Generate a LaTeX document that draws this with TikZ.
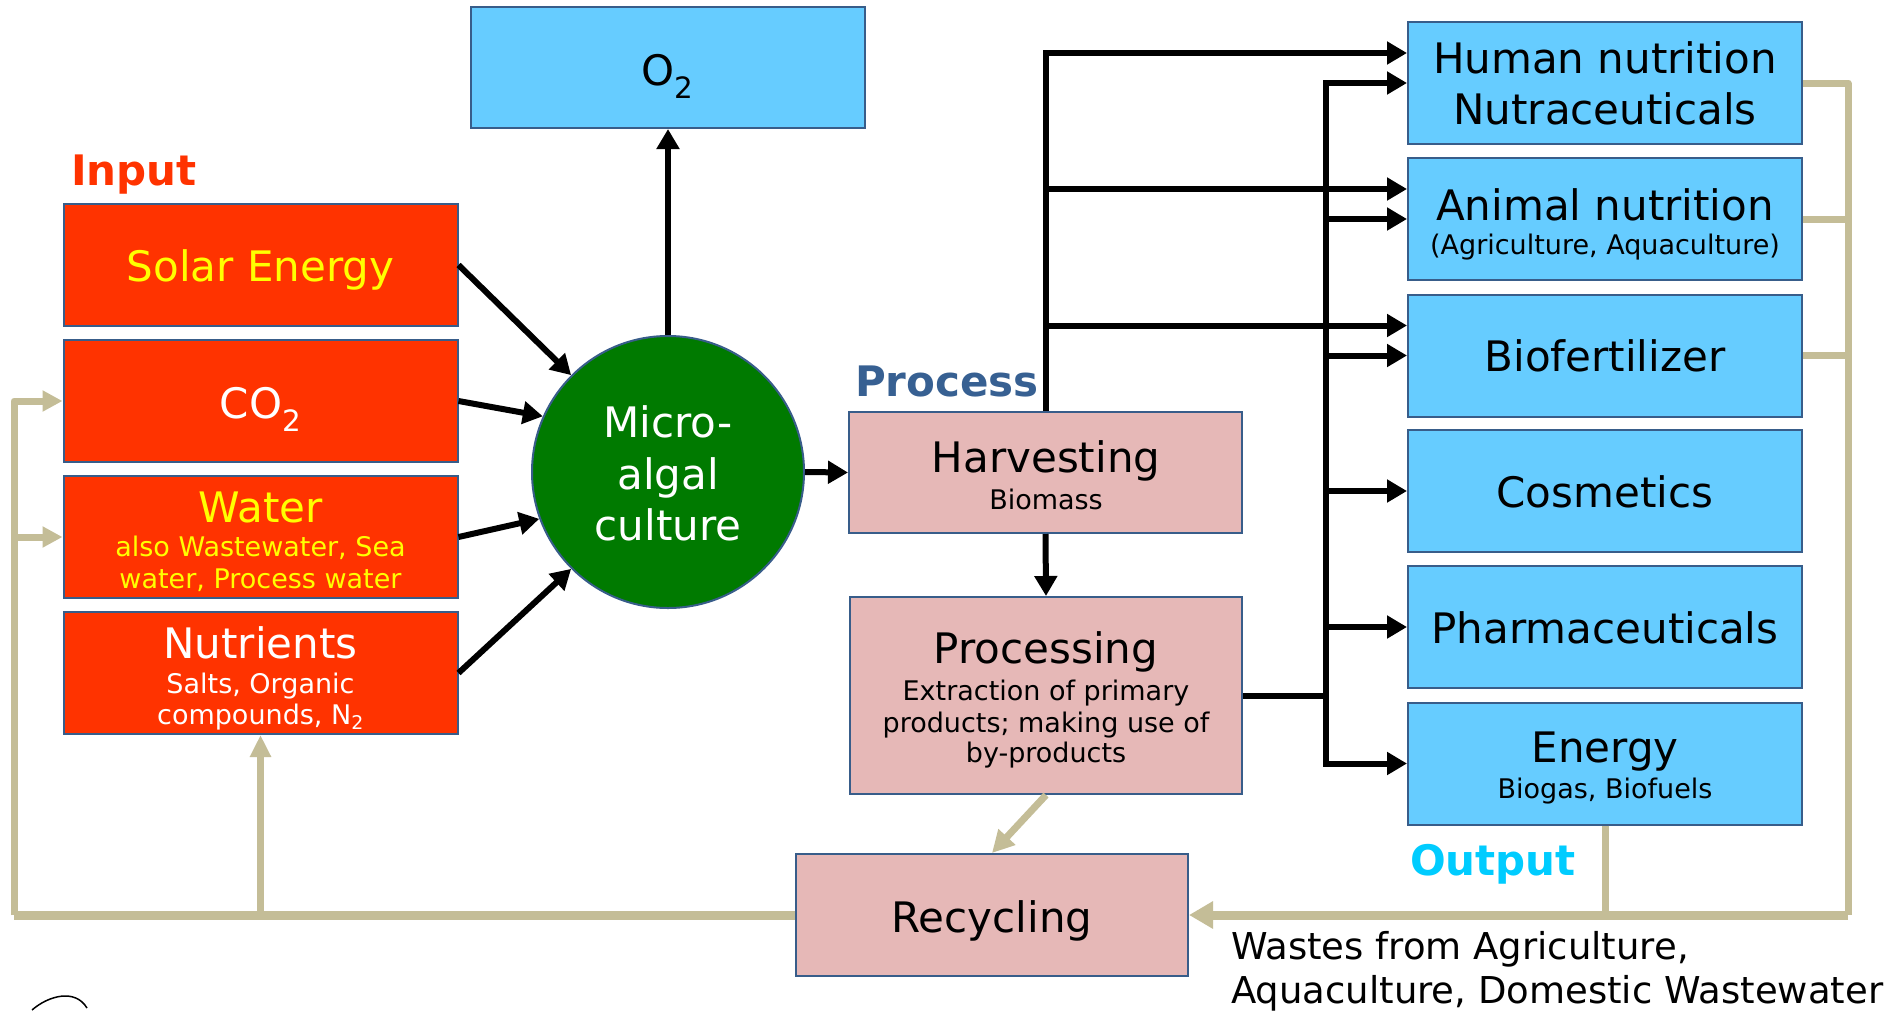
\documentclass[tikz,border=0pt]{standalone}
\usepackage{fontspec}
\setmainfont{DejaVu Sans}
\usetikzlibrary{arrows.meta,calc}
\definecolor{inred}{HTML}{FF3300}
\definecolor{outblue}{HTML}{66CCFF}
\definecolor{procpink}{HTML}{E6B8B7}
\definecolor{algae}{HTML}{007A00}
\definecolor{edgec}{HTML}{385D8A}
\definecolor{tanc}{HTML}{C4BD97}
\definecolor{proclbl}{HTML}{376092}
\definecolor{outlbl}{HTML}{00CCFF}
\definecolor{ylw}{HTML}{FFFF00}
\begin{document}
\begin{tikzpicture}[x=1pt,y=-1pt,
  boxbase/.style={draw=edgec, line width=2pt, inner sep=0pt, minimum width=394pt, minimum height=122pt},
  inbox/.style={boxbase, fill=inred},
  outbox/.style={boxbase, fill=outblue},
  pbox/.style={boxbase, fill=procpink},
  tx/.style={anchor=base, inner sep=0pt, text=black},
  big/.style={tx, font=\fontsize{42}{50}\selectfont},
  small/.style={tx, font=\fontsize{27}{32}\selectfont},
  lbl/.style={tx, font=\fontsize{42}{50}\selectfont\bfseries},
  blkline/.style={draw=black, line width=6pt},
  blk/.style={blkline, -{Triangle[length=20pt,width=22pt]}},
  tanl/.style={draw=tanc, line width=7pt, line join=round},
  tarr/.style={tanl, -{Triangle[length=22pt,width=22pt]}}
]
\fill[white] (0,0) rectangle (1895,1010);
\useasboundingbox (0,0) rectangle (1895,1010);

% ---------- boxes ----------
\node[inbox] (solar) at (260.5,265) {};
\node[inbox] (co2) at (260.5,401) {};
\node[inbox] (water) at (260.5,537) {};
\node[inbox] (nutr) at (260.5,673) {};
\node[circle, fill=algae, draw=edgec, line width=2pt, minimum size=272pt, inner sep=0pt] (circ) at (668,472) {};
\node[outbox, minimum height=121pt] (o2) at (668,67.5) {};
\node[pbox, minimum width=393pt, minimum height=121pt] (harv) at (1045.5,472.5) {};
\node[pbox, minimum width=392pt, minimum height=197pt] (proc) at (1046,695.5) {};
\node[pbox, minimum width=392pt] (recyc) at (992,915) {};
\node[outbox] (human) at (1605,83) {};
\node[outbox] (animal) at (1605,219) {};
\node[outbox] (bio) at (1605,355.5) {};
\node[outbox] (cos) at (1605,491) {};
\node[outbox] (pharma) at (1605,627) {};
\node[outbox] (energy) at (1605,763.5) {};

% ---------- texts ----------
\node[lbl, text=inred] (linput) at (134,185) {Input};
\node[lbl, text=proclbl] (lprocess) at (947,396) {Process};
\node[lbl, text=outlbl] (loutput) at (1493,875) {Output};

\node[big, text=ylw] (tsolar) at (260.5,281) {Solar Energy};
\node[big, text=white] (tco2) at (260.5,418) {CO\textsubscript{2}};
\node[big, text=ylw] (twater) at (260.5,522) {Water};
\node[small, text=ylw] (twater1) at (260.5,556) {also Wastewater, Sea};
\node[small, text=ylw] (twater2) at (260.5,588) {water, Process water};
\node[big, text=white] (tnutr) at (260.5,658) {Nutrients};
\node[small, text=white] (tnutr1) at (260.5,693) {Salts, Organic};
\node[small, text=white] (tnutr2) at (260.5,724) {compounds, N\textsubscript{2}};

\node[big, text=white] (tmic1) at (668,437) {Micro-};
\node[big, text=white] (tmic2) at (668,489) {algal};
\node[big, text=white] (tmic3) at (668,540) {culture};

\node[big] (to2) at (668,85) {O\textsubscript{2}};

\node[big] (tharv) at (1046,472) {Harvesting};
\node[small] (tharv1) at (1046,509) {Biomass};
\node[big] (tproc) at (1046,663.5) {Processing};
\node[small] (tproc1) at (1046,700) {Extraction of primary};
\node[small] (tproc2) at (1046,732) {products; making use of};
\node[small] (tproc3) at (1046,762.5) {by-products};
\node[big] (trecyc) at (992,932) {Recycling};

\node[big] (thum1) at (1605,73) {Human nutrition};
\node[big] (thum2) at (1605,124) {Nutraceuticals};
\node[big] (tani1) at (1605,220) {Animal nutrition};
\node[small] (tani2) at (1605,254) {(Agriculture, Aquaculture)};
\node[big] (tbio) at (1605,371) {Biofertilizer};
\node[big] (tcos) at (1605,507) {Cosmetics};
\node[big] (tpha) at (1605,643) {Pharmaceuticals};
\node[big] (tene1) at (1605,762.5) {Energy};
\node[small] (tene2) at (1605,798) {Biogas, Biofuels};

\node[tx, anchor=base west, font=\fontsize{37}{46}\selectfont] (twaste1) at (1231,959) {Wastes from Agriculture,};
\node[tx, anchor=base west, font=\fontsize{37}{46}\selectfont] (twaste2) at (1231,1003.6) {Aquaculture, Domestic Wastewater};

% ---------- black connectors ----------
\draw[blk] (solar.east) -- (circ.135);
\draw[blk] (co2.east) -- (circ.156);
\draw[blk] (water.east) -- (circ.200);
\draw[blk] (nutr.east) -- (circ.225);
\draw[blk] (circ.north) -- (o2.south);
\draw[blk] (circ.east) -- (harv.west);
\draw[blk] (harv.south) -- (proc.north);

\coordinate (b1a) at ($(human.west)+(0,-30)$);
\coordinate (b1b) at ($(animal.west)+(0,-30)$);
\coordinate (b1c) at ($(bio.west)+(0,-30)$);
\draw[blk] (harv.north) |- (b1a);
\draw[blk] (harv.north |- b1b) -- (b1b);
\draw[blk] (harv.north |- b1c) -- (b1c);

\coordinate (b2) at (1326,0);
\draw[blkline, line cap=rect] (b2 |- human.west) -- (b2 |- energy.west);
\draw[blkline] (proc.east) -- (proc.east -| b2);
\foreach \n in {human,animal,bio,cos,pharma,energy}
  \draw[blk] (b2 |- \n.west) -- (\n.west);

% ---------- tan connectors ----------
\coordinate (brk) at (1848,0);
\draw[tanl] (human.east) -- (human.east -| brk) -- (recyc.east -| brk);
\draw[tanl] (animal.east) -- (animal.east -| brk);
\draw[tanl] (bio.east) -- (bio.east -| brk);
\draw[tanl] (energy.south) -- (energy.south |- recyc.east);
\draw[tanl, line width=9pt, -{Triangle[length=24pt,width=26pt]}] (recyc.east -| brk) -- (recyc.east);
\draw[tarr] (proc.south) -- (recyc.north);

\coordinate (lft) at (14,0);
\draw[tanl, line width=9pt] (recyc.west) -- (lft |- recyc.west);
\draw[tanl, -{Triangle[length=20pt,width=20pt]}] (lft |- recyc.west) -- (lft |- co2.west) -- (co2.west);
\draw[tanl, -{Triangle[length=20pt,width=20pt]}] (lft |- water.west) -- (water.west);
\draw[tanl, -{Triangle[length=22pt,width=20pt]}] (nutr.south |- recyc.west) -- (nutr.south);

% ---------- stray mark ----------
\draw[line width=1.5pt] (32,1010) .. controls (48,996) and (75,988) .. (87,1008);
\end{tikzpicture}
\end{document}
